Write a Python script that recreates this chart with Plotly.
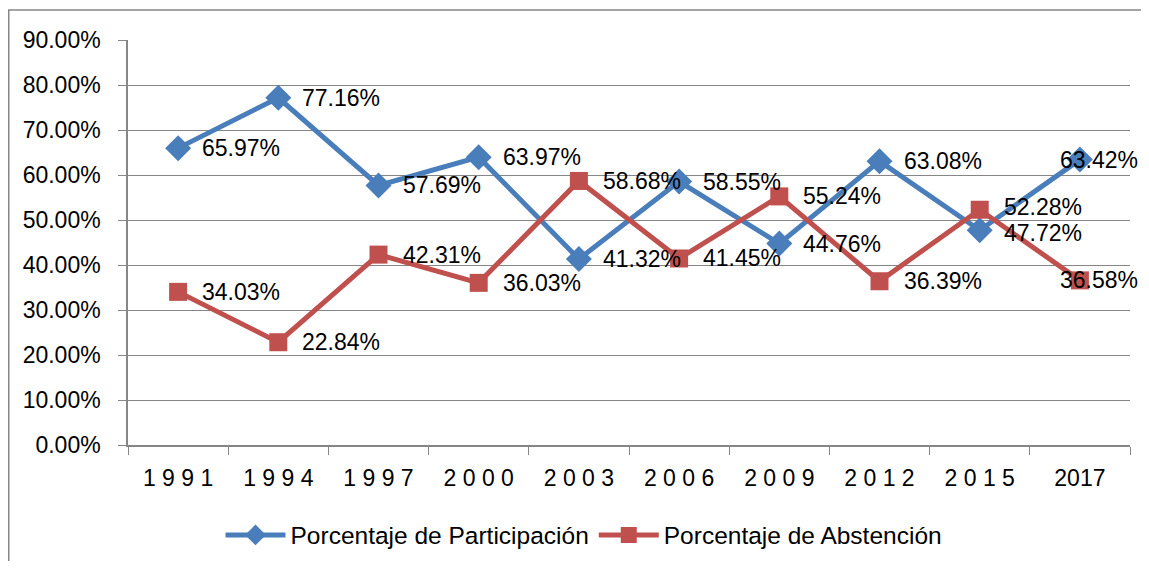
import plotly.graph_objects as go

years = ["1991", "1994", "1997", "2000", "2003", "2006", "2009", "2012", "2015", "2017"]
tick_labels = ["1 9 9 1", "1 9 9 4", "1 9 9 7", "2 0 0 0", "2 0 0 3", "2 0 0 6",
               "2 0 0 9", "2 0 1 2", "2 0 1 5", "2017"]
participacion = [65.97, 77.16, 57.69, 63.97, 41.32, 58.55, 44.76, 63.08, 47.72, 63.42]
abstencion = [34.03, 22.84, 42.31, 36.03, 58.68, 41.45, 55.24, 36.39, 52.28, 36.58]
y_ticks = [0, 10, 20, 30, 40, 50, 60, 70, 80, 90]

BLUE = "#4A7EBB"
RED = "#C0504D"
GRID = "#868686"
FONT = "Liberation Sans"
FS = 23

# page body has an 8px margin; figure sized to fit the 1149x569 window
W, H = 1141, 553
L, T, R = 120, 32, 19
PLOT_H = 405
B = H - T - PLOT_H
PLOT_W = W - L - R

fig = go.Figure()
fig.add_trace(go.Scatter(
    x=years, y=[v / 100 for v in participacion], mode="lines+markers",
    name="Porcentaje de Participación",
    line=dict(color=BLUE, width=5),
    marker=dict(symbol="diamond", size=20, color=BLUE),
))
fig.add_trace(go.Scatter(
    x=years, y=[v / 100 for v in abstencion], mode="lines+markers",
    name="Porcentaje de Abstención",
    line=dict(color=RED, width=5),
    marker=dict(symbol="square", size=18, color=RED),
))

annotations = []
for series, other in ((participacion, abstencion), (abstencion, participacion)):
    for i, v in enumerate(series):
        last = i == len(series) - 1
        # nudge labels apart where the two series nearly meet
        ys = 0
        if abs(v - other[i]) < 6:
            ys = 3 if v > other[i] else -3
        annotations.append(dict(
            x=i, y=v / 100, xref="x", yref="y",
            text=f"{v:.2f}%", showarrow=False,
            xanchor="left", yanchor="middle",
            xshift=-21 if last else 23, yshift=ys, borderpad=0,
            font=dict(family=FONT, size=FS, color="black"),
        ))

fig.update_layout(
    width=W, height=H,
    margin=dict(l=L, r=R, t=T, b=B, autoexpand=False),
    paper_bgcolor="white", plot_bgcolor="white",
    font=dict(family=FONT, size=FS, color="black"),
    showlegend=True,
    legend=dict(orientation="h", x=(576 - L) / PLOT_W, xanchor="center",
                y=-90 / PLOT_H, yanchor="middle",
                font=dict(family=FONT, size=24.5, color="black"), itemwidth=60,
                tracegroupgap=0),
    annotations=annotations,
    shapes=[dict(type="rect", xref="paper", yref="paper",
                 x0=(0.75 - L) / PLOT_W, x1=1 + 40 / PLOT_W,
                 y0=-(B + 20) / PLOT_H, y1=1 + (T - 2) / PLOT_H,
                 line=dict(color=GRID, width=1.5), layer="below")],
)
fig.update_xaxes(
    type="category", tickmode="array", tickvals=years, ticktext=tick_labels,
    tickson="boundaries", ticks="outside", ticklen=8, tickcolor=GRID,
    showline=True, linecolor=GRID, linewidth=1.5, showgrid=False,
    tickfont=dict(family=FONT, size=FS), range=[-0.5, 9.5],
    ticklabelstandoff=12,
)
fig.update_yaxes(
    range=[0, 0.9], tickvals=[t / 100 for t in y_ticks], tickformat=".2%",
    ticks="outside", ticklen=8, tickcolor=GRID,
    showline=True, linecolor=GRID, linewidth=1.5,
    showgrid=True, gridcolor=GRID, gridwidth=1, zeroline=False,
    tickfont=dict(family=FONT, size=FS), ticklabelstandoff=13,
)

fig.write_html("out.html")
